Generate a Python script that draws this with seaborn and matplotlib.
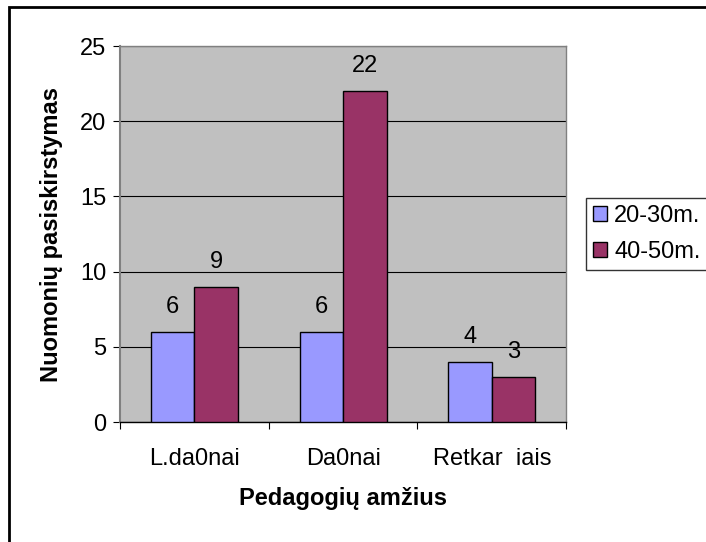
import matplotlib
matplotlib.use('Agg')
import matplotlib.pyplot as plt
from matplotlib.patches import Rectangle, Patch
import seaborn as sb
import pandas as pd

categories = ['L.da0nai', 'Da0nai', 'Retkar  iais']
groups = ['20-30m.', '40-50m.']
vals_2030 = [6, 6, 4]
vals_4050 = [9, 22, 3]
yticks = [0, 5, 10, 15, 20, 25]

colors = ['#9999FF', '#993366']

df = pd.DataFrame({
    'cat': categories * 2,
    'grp': [groups[0]] * 3 + [groups[1]] * 3,
    'val': vals_2030 + vals_4050,
})

sb.set_style('white')
plt.rcParams['font.family'] = ['Liberation Sans', 'DejaVu Sans']
plt.rcParams['text.color'] = 'black'
plt.rcParams['axes.labelcolor'] = 'black'
plt.rcParams['xtick.color'] = 'black'
plt.rcParams['ytick.color'] = 'black'

fs = 17

fig = plt.figure(figsize=(7.06, 5.42), dpi=100)
ax = fig.add_axes([0.170, 0.2214, 0.632, 0.6936])
ax.set_facecolor('#C0C0C0')

sb.barplot(data=df, x='cat', y='val', hue='grp', palette=colors, width=0.585,
           gap=0, edgecolor='black', linewidth=1, saturation=1, ax=ax, legend=False,
           zorder=3)

for c in ax.containers:
    ax.bar_label(c, padding=10, fontsize=fs)

ax.set_ylim(0, 25)
ax.set_xlim(-0.5, 2.5)
ax.set_yticks(yticks)
ax.yaxis.grid(True, color='black', linewidth=0.8, zorder=0)
ax.set_axisbelow(True)
ax.tick_params(axis='y', left=True, length=5, width=0.8, labelsize=fs, pad=5)
ax.tick_params(axis='x', bottom=True, length=0, labelsize=fs, pad=19)
ax.set_xticks([-0.5, 0.5, 1.5, 2.5], minor=True)
ax.tick_params(axis='x', which='minor', bottom=True, length=5, width=0.8)

for s in ['top', 'right']:
    ax.spines[s].set_color('#808080')
    ax.spines[s].set_linewidth(1)
ax.spines['left'].set_color('#808080')
ax.spines['left'].set_linewidth(1.5)
ax.spines['bottom'].set_color('black')
ax.spines['bottom'].set_linewidth(1)

ax.set_xlabel('Pedagogių amžius', fontsize=17, fontweight='bold')
ax.set_ylabel('Nuomonių pasiskirstymas', fontsize=17, fontweight='bold')
ax.xaxis.set_label_coords(0.5, -(500 - 423) / 376, transform=ax.transAxes)
ax.xaxis.label.set_va('center')
ax.yaxis.set_label_coords(-(120 - 52) / 446, 0.5)
ax.yaxis.label.set_va('center')

handles = [Patch(facecolor=colors[i], edgecolor='black', label=groups[i]) for i in range(2)]
leg = fig.legend(handles=handles, loc='upper left', bbox_to_anchor=(586 / 706, 1 - 198 / 542),
                 frameon=True, fancybox=False, fontsize=fs, handlelength=0.6, handleheight=0.6,
                 handletextpad=0.3, borderpad=0.3, labelspacing=0.6, borderaxespad=0)
leg.get_frame().set_edgecolor('black')
leg.get_frame().set_linewidth(1)

# outer chart border (only left/top edges are inside the image)
fig.patches.append(Rectangle((9 / 706, -0.1), 1.2, 1 - 7 / 542 + 0.1, transform=fig.transFigure,
                             fill=False, edgecolor='black', linewidth=2))

fig.savefig('out.png', dpi=100)
